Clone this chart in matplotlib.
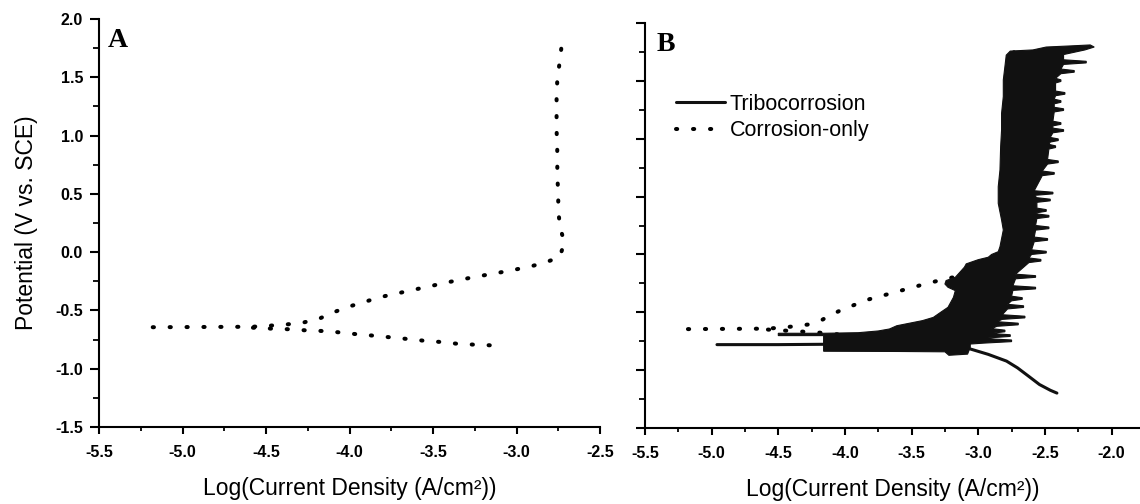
import matplotlib
matplotlib.use("Agg")
import numpy as np
import matplotlib.pyplot as plt
from matplotlib.ticker import MultipleLocator, FormatStrFormatter

plt.rcParams.update({
    "font.family": ["Liberation Sans", "DejaVu Sans"],
    "axes.unicode_minus": False,
    "axes.linewidth": 1.5,
    "xtick.direction": "out",
    "ytick.direction": "out",
})

# ---- Corrosion-only (potentiodynamic, dotted) ----
# cathodic branch, read from right end towards E_corr
cath_logi = [-3.16, -3.26, -3.36, -3.46, -3.56, -3.66, -3.76, -3.86, -3.97, -4.07,
             -4.17, -4.27, -4.37, -4.47, -4.58]
cath_E = [-0.799, -0.793, -0.785, -0.770, -0.759, -0.744, -0.730, -0.716, -0.702, -0.687,
          -0.676, -0.670, -0.661, -0.656, -0.648]
# anodic branch, from the top of the passive region back down to E_corr
anod_logi = [-2.732, -2.744, -2.756, -2.76, -2.76, -2.76, -2.756, -2.756, -2.754, -2.75,
             -2.75, -2.74, -2.714, -2.74, -2.83, -2.92, -3.02, -3.12, -3.22, -3.32,
             -3.42, -3.52, -3.62, -3.72, -3.82, -3.91, -4.01, -4.11, -4.18, -4.28,
             -4.37, -4.47, -4.58, -5.18]
anod_E = [1.745, 1.605, 1.468, 1.331, 1.188, 1.045, 0.900, 0.754, 0.608, 0.508,
          0.365, 0.219, 0.085, -0.041, -0.090, -0.124, -0.153, -0.180, -0.205, -0.232,
          -0.261, -0.293, -0.324, -0.356, -0.387, -0.427, -0.470, -0.524, -0.570, -0.605,
          -0.619, -0.630, -0.640, -0.644]

# ---- Tribocorrosion (very noisy scan, drawn as the black band it forms) ----
# top cap of the band
top_logi = [-2.79, -2.76, -2.59, -2.49, -2.30, -2.16, -2.13, -2.20, -2.36]
top_E = [1.72, 1.755, 1.765, 1.79, 1.80, 1.808, 1.79, 1.765, 1.725]
# noise spikes on the right (high current) side: potential, spike tip, base
spike_E = [1.66, 1.58, 1.50, 1.39, 1.32, 1.25, 1.13, 1.07, 0.99, 0.93, 0.80, 0.70,
           0.53, 0.47, 0.38, 0.33, 0.23, 0.13, 0.02, -0.05, -0.19, -0.29, -0.38, -0.45,
           -0.54, -0.60, -0.66, -0.70, -0.745]
spike_tip = [-2.19, -2.28, -2.38, -2.35, -2.38, -2.36, -2.38, -2.36, -2.40, -2.42, -2.40, -2.43,
             -2.44, -2.46, -2.49, -2.47, -2.47, -2.48, -2.49, -2.53, -2.57, -2.57, -2.67, -2.66,
             -2.65, -2.70, -2.80, -2.76, -2.75]
spike_base = [-2.36, -2.38, -2.42, -2.42, -2.43, -2.43, -2.44, -2.44, -2.46, -2.47, -2.48, -2.52,
              -2.58, -2.56, -2.56, -2.56, -2.57, -2.58, -2.60, -2.62, -2.72, -2.74, -2.75, -2.78,
              -2.82, -2.86, -2.90, -2.92, -2.96]
# lower edge, E_corr band and left (low current) side, going back up
low_logi = [-3.06, -3.06, -3.08, -3.22, -3.25, -3.60, -4.16, -4.16, -4.50, -4.50, -4.16,
            -3.90, -3.75, -3.666, -3.611, -3.419, -3.337, -3.282, -3.227, -3.186, -3.172,
            -3.227, -3.25, -3.241, -3.172, -3.104, -3.09, -3.00, -2.925, -2.90, -2.85, -2.837,
            -2.812, -2.825, -2.85, -2.85, -2.837, -2.832, -2.825, -2.825, -2.812, -2.812, -2.80]
low_E = [-0.773, -0.80, -0.86, -0.87, -0.84, -0.837, -0.835, -0.70, -0.70, -0.68, -0.68,
         -0.675, -0.66, -0.643, -0.615, -0.571, -0.543, -0.499, -0.456, -0.370, -0.312,
         -0.283, -0.255, -0.225, -0.197, -0.110, -0.081, -0.045, -0.024, 0.0, 0.024, 0.067,
         0.211, 0.298, 0.441, 0.585, 0.729, 0.930, 1.074, 1.218, 1.362, 1.506, 1.621]
# cathodic tail of the tribocorrosion scan
tail_logi = [-4.96, -4.50, -4.16, -3.60, -3.09, -2.925, -2.788, -2.706, -2.623, -2.541, -2.459, -2.41]
tail_E = [-0.778, -0.778, -0.775, -0.790, -0.805, -0.862, -0.920, -0.978, -1.050, -1.122, -1.172, -1.196]

INK = "#111111"
DOT_LW = 2.9      # pt
DOT_GAP = 17.0    # px between dots, as in the original


def dotted(ax, x, y, **kw):
    # pick the dash period so that both ends of the curve carry a dot
    pts = ax.transData.transform(np.column_stack([x, y]))
    length = np.hypot(*np.diff(pts, axis=0).T).sum() - 1.5
    n = max(1, round(length / DOT_GAP))
    period = length / n * 72 / fig.dpi / DOT_LW
    return ax.plot(x, y, color="black", lw=DOT_LW, dash_capstyle="round",
                   linestyle=(0, (0.3, period - 0.3)), **kw)


fig = plt.figure(figsize=(11.4, 5.04), dpi=100)
axA = fig.add_axes([99 / 1140, (504 - 427) / 504, 501 / 1140, 408 / 504])
axB = fig.add_axes([645 / 1140, (504 - 428.3) / 504, 495 / 1140, 405.6 / 504])

for ax in (axA, axB):
    ax.spines["top"].set_visible(False)
    ax.spines["right"].set_visible(False)
    ax.set_ylim(-1.5, 2.0)
    ax.yaxis.set_major_locator(MultipleLocator(0.5))
    ax.yaxis.set_minor_locator(MultipleLocator(0.25))
    ax.xaxis.set_major_locator(MultipleLocator(0.5))
    ax.xaxis.set_minor_locator(MultipleLocator(0.25))
    ax.xaxis.set_major_formatter(FormatStrFormatter("%.1f"))
    ax.yaxis.set_major_formatter(FormatStrFormatter("%.1f"))
    ax.tick_params(axis="x", which="major", length=5, width=1.5, pad=8, labelsize=11.5)
    ax.tick_params(axis="x", which="minor", length=3, width=1.3)
    ax.tick_params(axis="y", which="major", length=6.5, width=1.5, pad=5, labelsize=11.5)
    ax.tick_params(axis="y", which="minor", length=4, width=1.3)
    for lab in ax.get_xticklabels() + ax.get_yticklabels():
        lab.set_fontweight("bold")
    ax.set_xlabel("Log(Current Density (A/cm²))", fontsize=16.5, labelpad=12)

axA.set_xlim(-5.5, -2.5)
axB.set_xlim(-5.5, -5.5 + 495 / 133.3)

# ---- Panel A ----
dotted(axA, cath_logi, cath_E)
dotted(axA, anod_logi, anod_E)
axA.set_ylabel("Potential (V vs. SCE)", fontsize=16.5, labelpad=12)
axA.text(0.018, 0.931, "A", transform=axA.transAxes, fontsize=20, fontweight="bold",
         family="Liberation Serif", va="baseline")

# ---- Panel B ----
dotted(axB, cath_logi, cath_E, zorder=1)
dotted(axB, anod_logi, anod_E, zorder=1, label="Corrosion-only")

outline_x = list(top_logi)
outline_y = list(top_E)
for e, tip, base in zip(spike_E, spike_tip, spike_base):
    outline_x += [base, tip, tip, base]
    outline_y += [e + 0.02, e + 0.007, e - 0.007, e - 0.02]
outline_x += low_logi
outline_y += low_E
axB.fill(outline_x, outline_y, color=INK, lw=0.8, ec=INK, zorder=2)
axB.plot(tail_logi, tail_E, color=INK, lw=2.2, solid_capstyle="round", zorder=2,
         label="Tribocorrosion")
axB.tick_params(axis="y", labelleft=False)
axB.text(0.024, 0.931, "B", transform=axB.transAxes, fontsize=20, fontweight="bold",
         family="Liberation Serif", va="baseline")
h, l = axB.get_legend_handles_labels()
leg = axB.legend(h[::-1], l[::-1], loc="upper left", bbox_to_anchor=(0.062, 0.825),
                 frameon=False, fontsize=15.5, handlelength=2.3, handletextpad=0.2,
                 borderpad=0, borderaxespad=0, labelspacing=0.25)
leg.get_lines()[1].set_linestyle((0, (0.3, DOT_GAP * 72 / fig.dpi / DOT_LW - 0.3)))

fig.savefig("out.png", dpi=100)
